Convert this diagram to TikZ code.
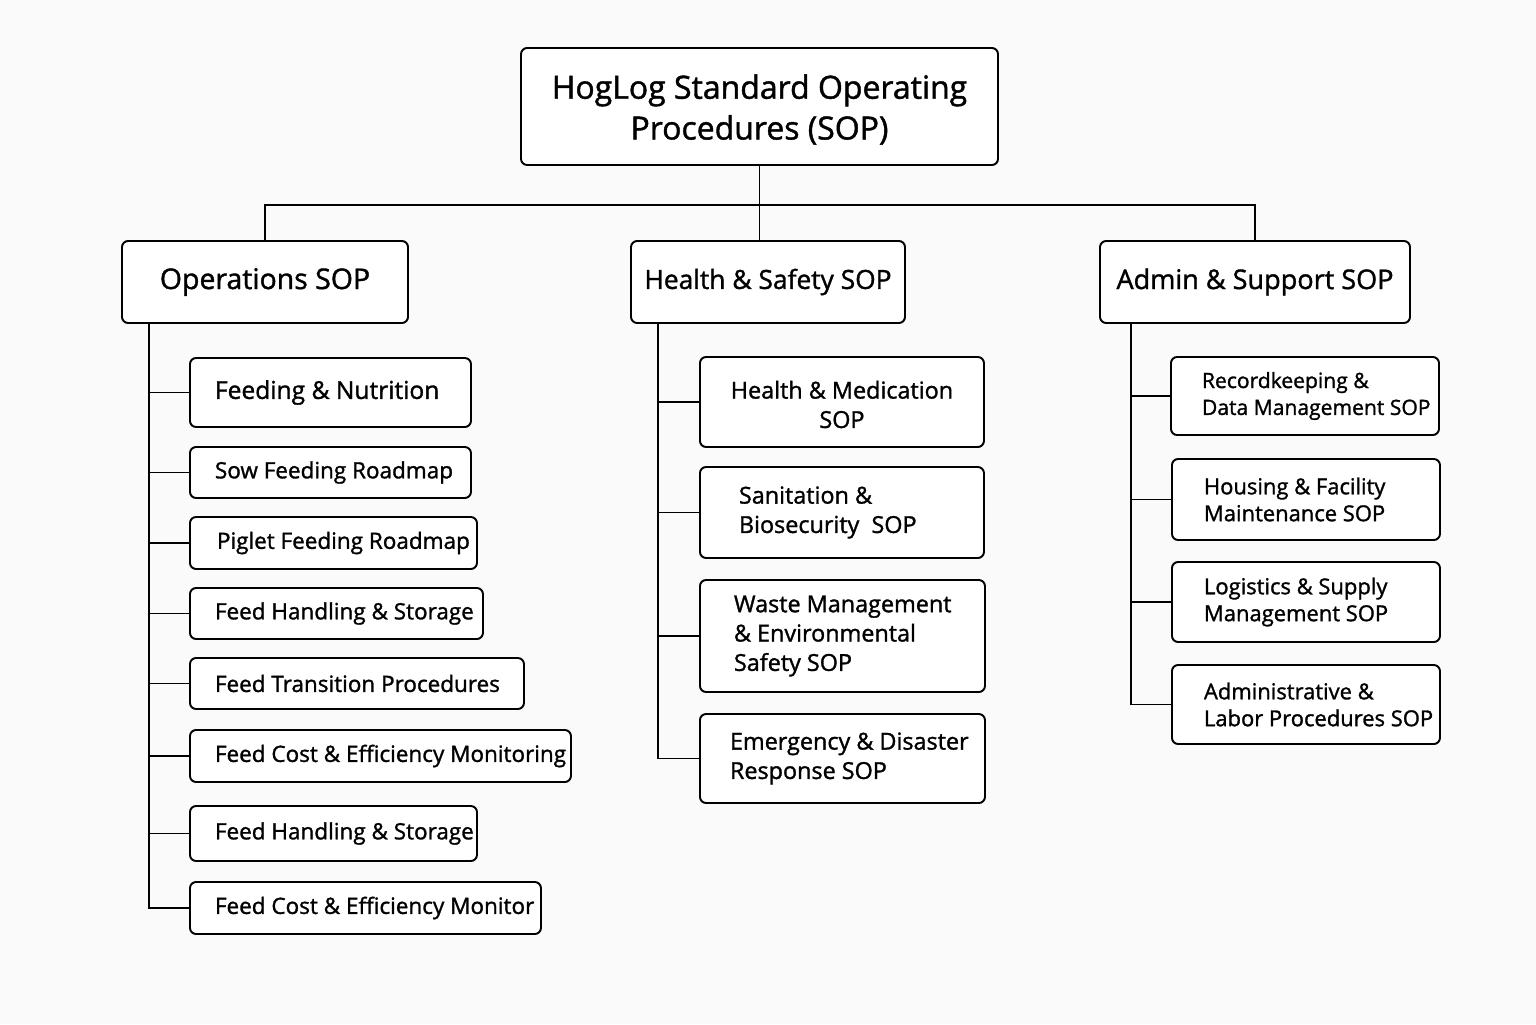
\documentclass[tikz,border=0pt]{standalone}
\usepackage{fontspec}
\setmainfont{Open Sans}[FakeBold=1.3]
\usetikzlibrary{positioning}

\begin{document}
\begin{tikzpicture}[line width=1.1pt,
  box/.style={draw,rounded corners=3.5pt,fill=white,inner sep=0pt},
  leaf/.style={box,anchor=west,minimum height=1.02cm},
  leaftext/.style={inner sep=0pt,align=left,font=\fontsize{12.5}{15.3}\selectfont},
  optext/.style={leaftext,font=\fontsize{12.8}{15.3}\selectfont},
  hstext/.style={leaftext,font=\fontsize{13.3}{16.7}\selectfont},
  head/.style={box,minimum height=1.64cm}]
\fill[gray!4] (0,0) rectangle (30.72,20.48);
\useasboundingbox (0,0) rectangle (30.72,20.48);
% top and second level
\node[box,minimum width=9.54cm,minimum height=2.34cm] (title) at (15.19,18.35) {};
\node[align=center,inner sep=0pt,font=\fontsize{18.2}{23.2}\selectfont] (titlet) at ([yshift=-0.06cm]title.center) {HogLog Standard Operating\\Procedures (SOP)};
\node[head,minimum width=5.72cm,font=\fontsize{16.2}{19}\selectfont] (ops) at (5.30,14.84) {Operations SOP};
\node[head,minimum width=5.48cm,font=\fontsize{15}{18}\selectfont] (hs) at (15.36,14.84) {Health \& Safety SOP};
\node[head,minimum width=6.20cm,font=\fontsize{15.4}{18}\selectfont] (adm) at (25.10,14.84) {Admin \& Support SOP};
\draw (title.south) -- (15.19,16.38) coordinate (bus);
\draw (ops.north) |- (bus) -| (adm.north);
\draw (bus) -- (bus |- hs.north);
% operations
\node[leaf,minimum width=5.62cm,minimum height=1.38cm] (o1) at (3.78,12.63) {};
\node[leaf,minimum width=5.62cm] (o2) at (3.78,11.03) {};
\node[leaf,minimum width=5.74cm,minimum height=1.04cm] (o3) at (3.78,9.62) {};
\node[leaf,minimum width=5.86cm] (o4) at (3.78,8.21) {};
\node[leaf,minimum width=6.68cm] (o5) at (3.78,6.81) {};
\node[leaf,minimum width=7.62cm,minimum height=1.04cm] (o6) at (3.78,5.36) {};
\node[leaf,minimum width=5.74cm,minimum height=1.10cm] (o7) at (3.78,3.81) {};
\node[leaf,minimum width=7.02cm,minimum height=1.04cm] (o8) at (3.78,2.32) {};
\node[leaftext,font=\fontsize{14}{17}\selectfont,right=0.5cm of o1.west] (o1t) {Feeding \& Nutrition};
\node[optext,right=0.5cm of o2.west] (o2t) {Sow Feeding Roadmap};
\node[optext,right=0.54cm of o3.west] (o3t) {Piglet Feeding Roadmap};
\node[optext,right=0.5cm of o4.west] (o4t) {Feed Handling \& Storage};
\node[optext,right=0.5cm of o5.west] (o5t) {Feed Transition Procedures};
\node[optext,right=0.5cm of o6.west] (o6t) {Feed Cost \& Efficiency Monitoring};
\node[optext,right=0.5cm of o7.west] (o7t) {Feed Handling \& Storage};
\node[optext,right=0.5cm of o8.west] (o8t) {Feed Cost \& Efficiency Monitor};
\coordinate (otrunk) at (2.98,0);
\draw (otrunk |- ops.south) |- (o8.west);
\foreach \n in {o1,o2,o3,o4,o5,o6,o7}
  \draw (otrunk |- \n.west) -- (\n.west);
% health and safety
\node[leaf,minimum width=5.68cm,minimum height=1.80cm] (h1) at (13.98,12.44) {};
\node[leaf,minimum width=5.68cm,minimum height=1.82cm] (h2) at (13.98,10.23) {};
\node[leaf,minimum width=5.70cm,minimum height=2.24cm] (h3) at (13.98,7.76) {};
\node[leaf,minimum width=5.70cm,minimum height=1.78cm] (h4) at (13.98,5.31) {};
\node[hstext,align=center] (h1t) at ([yshift=-0.05cm]h1.center) {Health \& Medication\\SOP};
\node[hstext,right=0.78cm of h2.west] (h2t) {Sanitation \&\\Biosecurity~~SOP};
\node[hstext,right=0.68cm of h3.west] (h3t) {Waste Management\\\& Environmental\\Safety SOP};
\node[hstext,right=0.6cm of h4.west] (h4t) {Emergency \& Disaster\\Response SOP};
\coordinate (htrunk) at (13.16,0);
\draw (htrunk |- hs.south) |- (h4.west);
\foreach \n in {h1,h2,h3}
  \draw (htrunk |- \n.west) -- (\n.west);
% admin and support
\node[leaf,minimum width=5.36cm,minimum height=1.56cm] (a1) at (23.40,12.56) {};
\node[leaf,minimum width=5.36cm,minimum height=1.62cm] (a2) at (23.42,10.49) {};
\node[leaf,minimum width=5.36cm,minimum height=1.60cm] (a3) at (23.42,8.44) {};
\node[leaf,minimum width=5.36cm,minimum height=1.58cm] (a4) at (23.42,6.39) {};
\node[leaftext,font=\fontsize{12}{15.3}\selectfont,right=0.62cm of a1.west] (a1t) {Recordkeeping \&\\Data Management SOP};
\node[leaftext,right=0.64cm of a2.west] (a2t) {Housing \& Facility\\Maintenance SOP};
\node[leaftext,right=0.64cm of a3.west] (a3t) {Logistics \& Supply\\Management SOP};
\node[leaftext,right=0.64cm of a4.west] (a4t) {Administrative \&\\Labor Procedures SOP};
\coordinate (atrunk) at (22.62,0);
\draw (atrunk |- adm.south) |- (a4.west);
\foreach \n in {a1,a2,a3}
  \draw (atrunk |- \n.west) -- (\n.west);
\end{tikzpicture}
\end{document}
